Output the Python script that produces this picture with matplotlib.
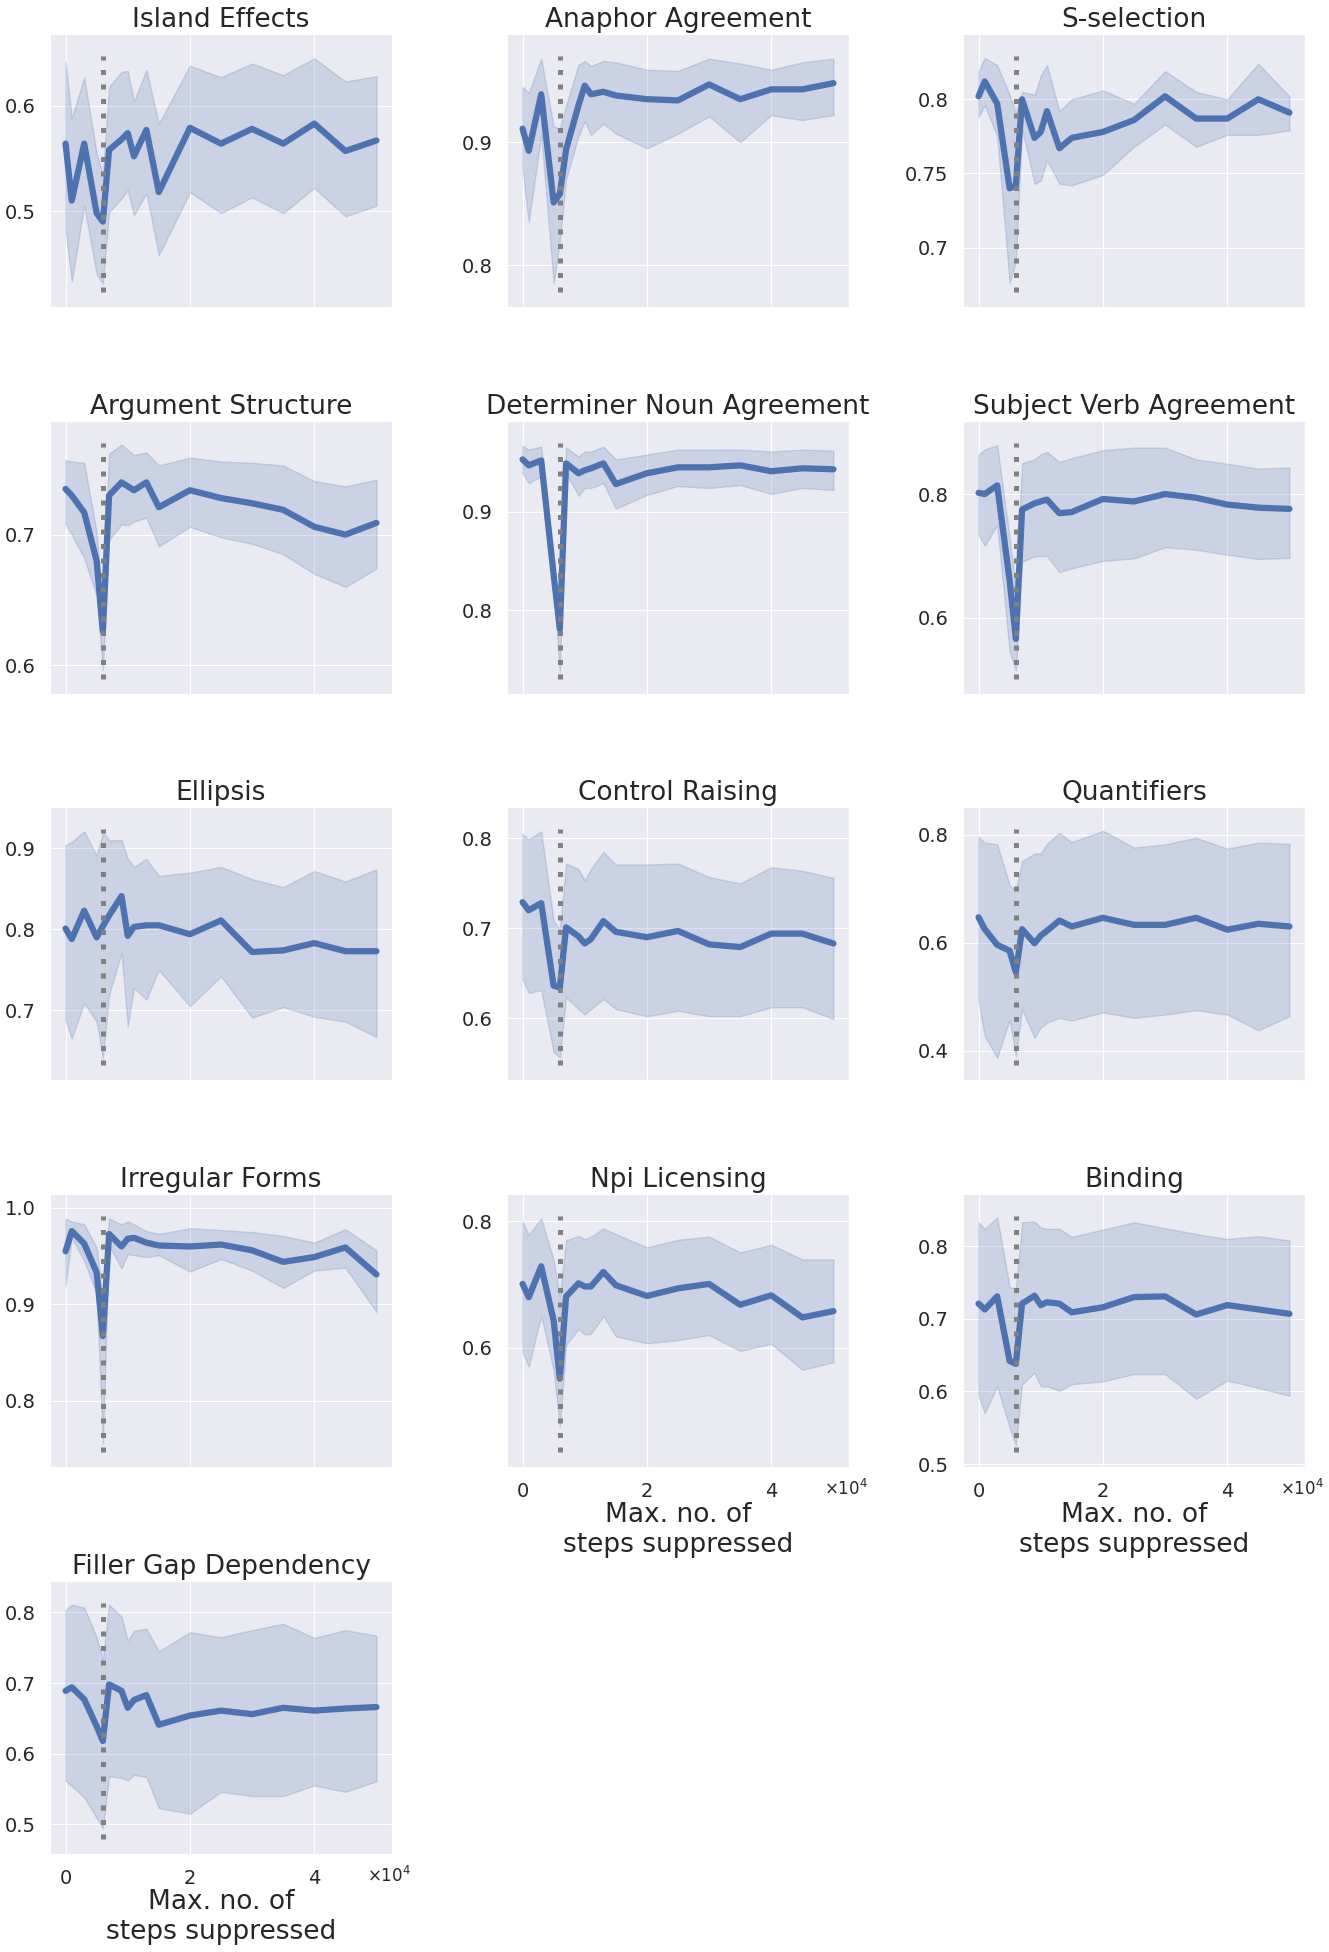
"""
Suppression sweep: accuracy per BLiMP task vs. max. number of suppressed steps
"""

import matplotlib
matplotlib.use("Agg")
import matplotlib.pyplot as plt
from matplotlib.ticker import FuncFormatter
import seaborn as sns

sns.set_style("darkgrid")
plt.rcParams["font.family"] = ["DejaVu Sans"]

# 横轴：最大抑制步数
steps = [0, 1000, 3000, 5000, 6000, 7000, 9000, 10000, 11000, 13000, 15000,
         20000, 25000, 30000, 35000, 40000, 45000, 50000]
cutoff_step = 6000

island_mean = [0.564, 0.510, 0.564, 0.498, 0.490, 0.558, 0.568, 0.574, 0.552, 0.577, 0.518, 0.579, 0.564, 0.578, 0.564, 0.583, 0.557, 0.567]
island_hi = [0.642, 0.588, 0.627, 0.555, 0.535, 0.618, 0.632, 0.633, 0.604, 0.634, 0.583, 0.638, 0.627, 0.640, 0.629, 0.645, 0.623, 0.628]
island_lo = [0.482, 0.433, 0.505, 0.440, 0.431, 0.499, 0.512, 0.520, 0.496, 0.517, 0.458, 0.518, 0.498, 0.513, 0.498, 0.522, 0.495, 0.505]

anaphor_mean = [0.911, 0.893, 0.939, 0.851, 0.858, 0.894, 0.930, 0.946, 0.939, 0.941, 0.938, 0.935, 0.934, 0.947, 0.935, 0.943, 0.943, 0.948]
anaphor_hi = [0.945, 0.940, 0.968, 0.913, 0.911, 0.930, 0.963, 0.966, 0.962, 0.966, 0.965, 0.959, 0.958, 0.968, 0.964, 0.959, 0.965, 0.968]
anaphor_lo = [0.877, 0.835, 0.906, 0.785, 0.820, 0.870, 0.905, 0.917, 0.906, 0.915, 0.907, 0.895, 0.907, 0.921, 0.900, 0.922, 0.918, 0.922]

ssel_mean = [0.802, 0.812, 0.797, 0.740, 0.742, 0.800, 0.774, 0.778, 0.792, 0.767, 0.774, 0.778, 0.786, 0.802, 0.787, 0.787, 0.800, 0.791]
ssel_hi = [0.819, 0.828, 0.823, 0.803, 0.791, 0.805, 0.803, 0.816, 0.823, 0.792, 0.800, 0.806, 0.797, 0.819, 0.805, 0.800, 0.824, 0.802]
ssel_lo = [0.788, 0.796, 0.775, 0.676, 0.691, 0.780, 0.743, 0.745, 0.759, 0.743, 0.742, 0.749, 0.768, 0.783, 0.768, 0.776, 0.776, 0.779]

arg_mean = [0.735, 0.730, 0.717, 0.680, 0.626, 0.730, 0.740, 0.737, 0.734, 0.740, 0.721, 0.734, 0.728, 0.724, 0.719, 0.706, 0.700, 0.709]
arg_hi = [0.757, 0.756, 0.755, 0.702, 0.643, 0.762, 0.769, 0.765, 0.761, 0.763, 0.753, 0.759, 0.756, 0.755, 0.753, 0.741, 0.737, 0.742]
arg_lo = [0.708, 0.700, 0.682, 0.653, 0.596, 0.696, 0.708, 0.707, 0.710, 0.713, 0.691, 0.706, 0.698, 0.693, 0.685, 0.670, 0.660, 0.674]

det_mean = [0.953, 0.947, 0.952, 0.836, 0.781, 0.949, 0.939, 0.942, 0.944, 0.949, 0.928, 0.939, 0.945, 0.945, 0.947, 0.941, 0.944, 0.943]
det_hi = [0.967, 0.963, 0.966, 0.850, 0.795, 0.965, 0.956, 0.961, 0.961, 0.966, 0.953, 0.958, 0.963, 0.963, 0.963, 0.961, 0.963, 0.962]
det_lo = [0.939, 0.929, 0.936, 0.820, 0.737, 0.939, 0.916, 0.924, 0.924, 0.929, 0.903, 0.917, 0.926, 0.924, 0.927, 0.918, 0.924, 0.922]

sva_mean = [0.802, 0.800, 0.814, 0.660, 0.566, 0.775, 0.785, 0.788, 0.791, 0.769, 0.771, 0.792, 0.788, 0.800, 0.794, 0.783, 0.778, 0.776]
sva_hi = [0.864, 0.872, 0.879, 0.729, 0.650, 0.850, 0.856, 0.864, 0.868, 0.852, 0.858, 0.871, 0.875, 0.875, 0.856, 0.849, 0.841, 0.843]
sva_lo = [0.734, 0.717, 0.750, 0.545, 0.515, 0.691, 0.699, 0.700, 0.700, 0.674, 0.680, 0.692, 0.696, 0.714, 0.710, 0.702, 0.695, 0.697]

ell_mean = [0.801, 0.788, 0.823, 0.790, 0.804, 0.817, 0.841, 0.792, 0.803, 0.805, 0.805, 0.794, 0.811, 0.772, 0.774, 0.783, 0.773, 0.773]
ell_hi = [0.904, 0.908, 0.921, 0.891, 0.920, 0.910, 0.910, 0.888, 0.877, 0.887, 0.866, 0.870, 0.877, 0.862, 0.852, 0.872, 0.859, 0.874]
ell_lo = [0.688, 0.665, 0.709, 0.686, 0.641, 0.719, 0.771, 0.680, 0.728, 0.713, 0.750, 0.705, 0.742, 0.691, 0.704, 0.692, 0.686, 0.667]

ctrl_mean = [0.729, 0.720, 0.728, 0.636, 0.634, 0.701, 0.691, 0.683, 0.688, 0.708, 0.696, 0.690, 0.697, 0.682, 0.679, 0.694, 0.694, 0.683]
ctrl_hi = [0.805, 0.799, 0.808, 0.708, 0.699, 0.772, 0.766, 0.753, 0.766, 0.785, 0.771, 0.771, 0.772, 0.757, 0.750, 0.768, 0.764, 0.756]
ctrl_lo = [0.643, 0.628, 0.631, 0.562, 0.556, 0.623, 0.610, 0.604, 0.610, 0.621, 0.610, 0.602, 0.608, 0.602, 0.602, 0.612, 0.612, 0.599]

quant_mean = [0.647, 0.625, 0.596, 0.585, 0.545, 0.625, 0.599, 0.613, 0.622, 0.641, 0.630, 0.646, 0.633, 0.633, 0.646, 0.624, 0.635, 0.630]
quant_hi = [0.796, 0.785, 0.782, 0.706, 0.697, 0.751, 0.765, 0.765, 0.783, 0.803, 0.786, 0.807, 0.776, 0.782, 0.794, 0.774, 0.785, 0.783]
quant_lo = [0.492, 0.427, 0.387, 0.458, 0.390, 0.477, 0.424, 0.443, 0.452, 0.461, 0.456, 0.471, 0.461, 0.467, 0.475, 0.467, 0.438, 0.464]

irr_mean = [0.955, 0.976, 0.963, 0.933, 0.867, 0.973, 0.960, 0.968, 0.969, 0.964, 0.961, 0.960, 0.962, 0.956, 0.944, 0.949, 0.959, 0.931]
irr_hi = [0.989, 0.986, 0.983, 0.959, 0.905, 0.989, 0.983, 0.986, 0.983, 0.976, 0.973, 0.979, 0.977, 0.975, 0.971, 0.964, 0.978, 0.956]
irr_lo = [0.919, 0.969, 0.945, 0.911, 0.755, 0.961, 0.937, 0.952, 0.951, 0.949, 0.951, 0.934, 0.947, 0.935, 0.917, 0.935, 0.938, 0.892]

npi_mean = [0.701, 0.680, 0.729, 0.643, 0.551, 0.681, 0.702, 0.697, 0.697, 0.720, 0.699, 0.682, 0.694, 0.701, 0.668, 0.683, 0.648, 0.658]
npi_hi = [0.800, 0.779, 0.805, 0.739, 0.681, 0.770, 0.777, 0.772, 0.776, 0.789, 0.780, 0.759, 0.771, 0.776, 0.751, 0.763, 0.740, 0.740]
npi_lo = [0.592, 0.570, 0.651, 0.564, 0.474, 0.604, 0.630, 0.621, 0.622, 0.650, 0.618, 0.607, 0.612, 0.620, 0.595, 0.606, 0.565, 0.577]

bind_mean = [0.721, 0.713, 0.731, 0.642, 0.638, 0.721, 0.732, 0.719, 0.723, 0.721, 0.709, 0.716, 0.730, 0.731, 0.706, 0.719, 0.713, 0.707]
bind_hi = [0.833, 0.824, 0.840, 0.744, 0.742, 0.833, 0.834, 0.826, 0.824, 0.824, 0.813, 0.823, 0.833, 0.825, 0.817, 0.810, 0.814, 0.808]
bind_lo = [0.594, 0.570, 0.607, 0.550, 0.526, 0.610, 0.626, 0.607, 0.607, 0.601, 0.610, 0.614, 0.624, 0.624, 0.590, 0.615, 0.605, 0.594]

fill_mean = [0.689, 0.694, 0.677, 0.639, 0.618, 0.698, 0.689, 0.665, 0.676, 0.683, 0.641, 0.654, 0.661, 0.656, 0.665, 0.661, 0.664, 0.666]
fill_hi = [0.803, 0.811, 0.807, 0.765, 0.734, 0.811, 0.794, 0.760, 0.774, 0.777, 0.745, 0.772, 0.765, 0.775, 0.784, 0.764, 0.775, 0.767]
fill_lo = [0.562, 0.554, 0.538, 0.509, 0.494, 0.568, 0.566, 0.562, 0.570, 0.567, 0.523, 0.515, 0.546, 0.540, 0.540, 0.555, 0.546, 0.561]

# 标题, 均值, 下界, 上界, y 范围, y 刻度
panels = [
    ("Island Effects", island_mean, island_lo, island_hi, (0.409, 0.668), [0.5, 0.6]),
    ("Anaphor Agreement", anaphor_mean, anaphor_lo, anaphor_hi, (0.766, 0.988), [0.8, 0.9]),
    ("S-selection", ssel_mean, ssel_lo, ssel_hi, (0.660, 0.844), [0.7, 0.75, 0.8]),
    ("Argument Structure", arg_mean, arg_lo, arg_hi, (0.578, 0.787), [0.6, 0.7]),
    ("Determiner Noun Agreement", det_mean, det_lo, det_hi, (0.715, 0.992), [0.8, 0.9]),
    ("Subject Verb Agreement", sva_mean, sva_lo, sva_hi, (0.477, 0.918), [0.6, 0.8]),
    ("Ellipsis", ell_mean, ell_lo, ell_hi, (0.614, 0.951), [0.7, 0.8, 0.9]),
    ("Control Raising", ctrl_mean, ctrl_lo, ctrl_hi, (0.531, 0.835), [0.6, 0.7, 0.8]),
    ("Quantifiers", quant_mean, quant_lo, quant_hi, (0.346, 0.851), [0.4, 0.6, 0.8]),
    ("Irregular Forms", irr_mean, irr_lo, irr_hi, (0.731, 1.0145), [0.8, 0.9, 1.0]),
    ("Npi Licensing", npi_mean, npi_lo, npi_hi, (0.411, 0.8435), [0.6, 0.8]),
    ("Binding", bind_mean, bind_lo, bind_hi, (0.496, 0.872), [0.5, 0.6, 0.7, 0.8]),
    ("Filler Gap Dependency", fill_mean, fill_lo, fill_hi, (0.458, 0.8445), [0.5, 0.6, 0.7, 0.8]),
]
# 显示横轴刻度的子图
labelled = {"Npi Licensing", "Binding", "Filler Gap Dependency"}

BLUE = "#4c72b0"
TEXT = "#262626"
W, H = 1329, 1952
col_left = [50, 507, 963]
row_top = [34, 421, 807, 1194, 1581]
ax_w, ax_h = 342, 273


def fmt_y(v):
    s = f"{v:.2f}".rstrip("0")
    return s + "0" if s.endswith(".") else s


fig = plt.figure(figsize=(W / 100, H / 100), dpi=100)

for i, (title, mean, lo, hi, ylim, yticks) in enumerate(panels):
    r, c = divmod(i, 3)
    ax = fig.add_axes([col_left[c] / W, 1 - (row_top[r] + ax_h) / H, ax_w / W, ax_h / H])

    ax.fill_between(steps, lo, hi, color=BLUE, alpha=0.2, linewidth=1)
    ax.plot(steps, mean, color=BLUE, linewidth=4.5)
    ax.axvline(cutoff_step, ymin=0.055, ymax=0.92, color="grey",
               linestyle=(0, (1, 1.9)), linewidth=3.6)

    ax.set_xlim(-2500, 52500)
    ax.set_ylim(*ylim)
    ax.set_xticks([0, 20000, 40000])
    ax.set_yticks(yticks)
    ax.set_yticklabels([fmt_y(v) for v in yticks])
    ax.tick_params(axis="y", labelsize=14, pad=7, colors=TEXT)
    ax.set_title(title, fontsize=19, pad=5, color=TEXT)

    if title in labelled:
        ax.xaxis.set_major_formatter(FuncFormatter(lambda v, p: f"{v / 1e4:g}"))
        ax.tick_params(axis="x", labelsize=14, pad=7, colors=TEXT)
        ax.text(0.99, -0.082, r"$\times10^{4}$", transform=ax.transAxes,
                ha="center", va="center", fontsize=12, color=TEXT)
        ax.set_xlabel("Max. no. of\nsteps suppressed", fontsize=19,
                      labelpad=1, color=TEXT)
    else:
        ax.tick_params(axis="x", labelbottom=False)

fig.savefig("out.png", dpi=100)
plt.close(fig)
